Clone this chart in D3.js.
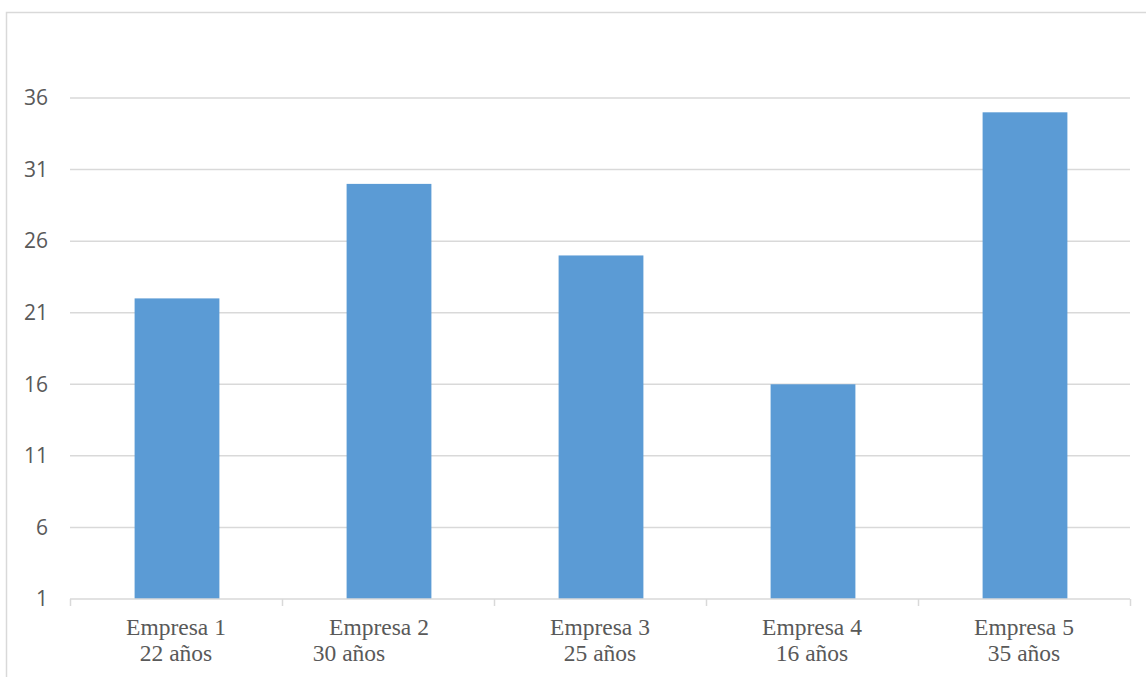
<!DOCTYPE html>
<html>
<head>
<meta charset="utf-8">
<script src="https://cdn.jsdelivr.net/npm/d3@7"></script>
<style>
  html, body { margin: 0; padding: 0; background: #fff; }
  svg { display: block; }
</style>
</head>
<body>
<svg id="chart" width="1146" height="677"></svg>
<script>
// Company names, years of operation, and the value-axis ticks
const companies = ["Empresa 1", "Empresa 2", "Empresa 3", "Empresa 4", "Empresa 5"];
const years = [22, 30, 25, 16, 35];
const yearLabels = ["22 años", "30 años", "25 años", "16 años", "35 años"];
const yTicks = [1, 6, 11, 16, 21, 26, 31, 36];

(function () {
  const svg = d3.select("#chart");
  const W = 1146, H = 677;
  const plotLeft = 70, plotRight = 1130, plotTop = 98, plotBottom = 599;

  // Outer chart frame
  svg.append("rect")
    .attr("x", 6.5).attr("y", 12.5)
    .attr("width", W + 20).attr("height", H + 20)
    .attr("fill", "none").attr("stroke", "#d9d9d9").attr("stroke-width", 1.5);

  const x = d3.scaleBand().domain(companies).range([plotLeft, plotRight]).padding(0);
  const y = d3.scaleLinear().domain([1, 36]).range([plotBottom, plotTop]);

  // Horizontal gridlines
  svg.append("g")
    .selectAll("line")
    .data(yTicks.filter(t => t !== 1))
    .join("line")
    .attr("x1", plotLeft).attr("x2", plotRight)
    .attr("y1", d => y(d)).attr("y2", d => y(d))
    .attr("stroke", "#d9d9d9").attr("stroke-width", 1.5);

  // Value-axis labels
  const yAxis = d3.axisLeft(y).tickValues(yTicks).tickSize(0).tickPadding(22);
  const yg = svg.append("g").attr("transform", `translate(${plotLeft},0)`).call(yAxis);
  yg.select(".domain").remove();
  yg.selectAll("text")
    .attr("font-family", "'Open Sans', sans-serif")
    .attr("font-size", 21)
    .attr("fill", "#595959");

  // Bars
  const barW = x.bandwidth() * 0.4;
  svg.append("g")
    .selectAll("rect")
    .data(companies)
    .join("rect")
    .attr("x", d => x(d) + x.bandwidth() / 2 - barW / 2 + 1)
    .attr("width", barW)
    .attr("y", (d, i) => y(years[i]))
    .attr("height", (d, i) => y(1) - y(years[i]))
    .attr("fill", "#5b9bd5");

  // Category axis with tick marks between categories
  const xg = svg.append("g");
  xg.append("line")
    .attr("x1", plotLeft).attr("x2", plotRight)
    .attr("y1", plotBottom).attr("y2", plotBottom)
    .attr("stroke", "#d9d9d9").attr("stroke-width", 1.5);
  const boundaries = companies.map(d => x(d)).concat([plotRight]);
  xg.selectAll("line.tick")
    .data(boundaries)
    .join("line")
    .attr("class", "tick")
    .attr("x1", d => d + 0.5).attr("x2", d => d + 0.5)
    .attr("y1", plotBottom).attr("y2", plotBottom + 7)
    .attr("stroke", "#d9d9d9").attr("stroke-width", 1.5);

  // Two-line category labels; the second company's label wraps off-centre
  const lineShift = [[0, 0], [-9, -39], [0, 0], [0, 0], [0, 0]];
  const lab = xg.selectAll("g.lab")
    .data(companies)
    .join("g")
    .attr("class", "lab")
    .attr("font-family", "'Liberation Serif', 'Times New Roman', serif")
    .attr("font-size", 23.5)
    .attr("fill", "#595959")
    .attr("text-anchor", "middle");
  lab.append("text")
    .attr("x", (d, i) => x(d) + x.bandwidth() / 2 + lineShift[i][0])
    .attr("y", 635)
    .text(d => d);
  lab.append("text")
    .attr("x", (d, i) => x(d) + x.bandwidth() / 2 + lineShift[i][1])
    .attr("y", 661)
    .text((d, i) => yearLabels[i]);
})();
</script>
</body>
</html>
